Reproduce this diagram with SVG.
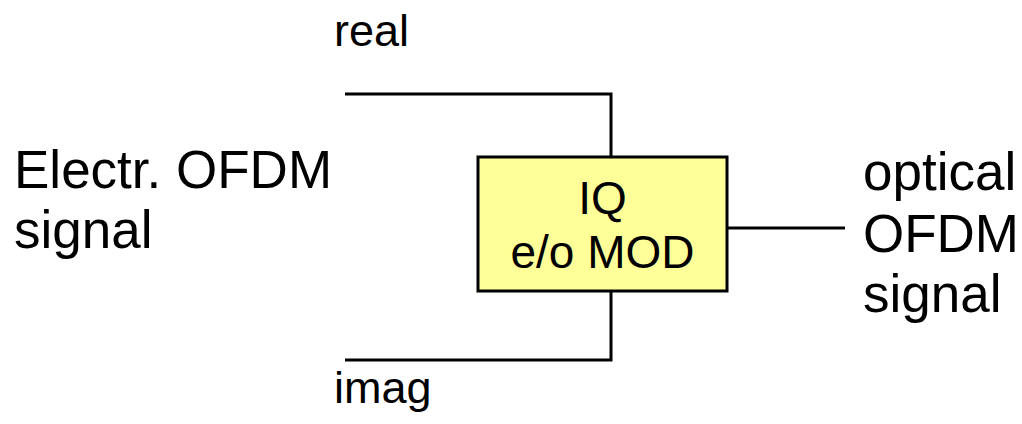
<svg xmlns="http://www.w3.org/2000/svg" width="1022" height="424" viewBox="0 0 1022 424">
<style>
text{font-family:"Liberation Sans",Arial,sans-serif;fill:#000}
.big{font-size:53px}
.lab{font-size:45px}
.box{font-size:46px;text-anchor:middle}
.wire{fill:none;stroke:#000;stroke-width:3}
</style>
<rect width="1022" height="424" fill="#fff"/>
<g id="connectors">
<polyline class="wire" points="345,94 611,94 611,157"/>
<polyline class="wire" points="345,360 611,360 611,291"/>
<line class="wire" x1="727" y1="228" x2="845" y2="228"/>
</g>
<g id="iqmod">
<rect x="478" y="157" width="249" height="134" fill="#ffff99" stroke="#000" stroke-width="3"/>
<text class="box" x="602.5" y="214">IQ</text>
<text class="box" x="602.5" y="268">e/o MOD</text>
</g>
<g id="input">
<text class="big" x="14" y="188">Electr. OFDM</text>
<text class="big" x="14" y="248">signal</text>
</g>
<g id="real"><text class="lab" x="334" y="46">real</text></g>
<g id="imag"><text class="lab" x="334" y="403">imag</text></g>
<g id="output">
<text class="big" x="863" y="190">optical</text>
<text class="big" x="863" y="252">OFDM</text>
<text class="big" x="863" y="312">signal</text>
</g>
</svg>
